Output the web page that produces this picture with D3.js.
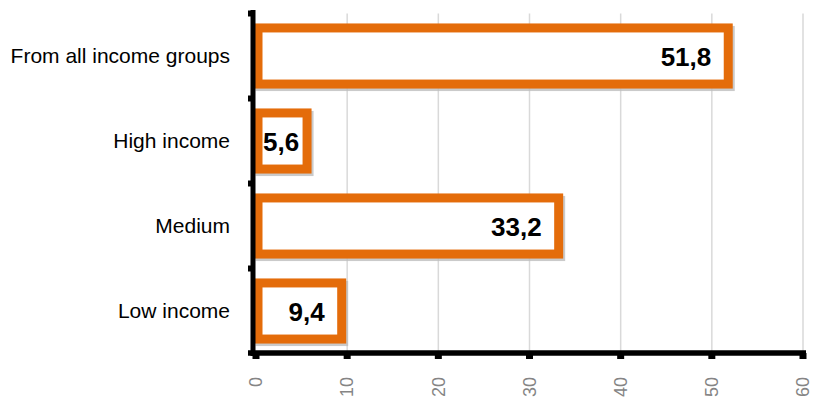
<!DOCTYPE html>
<html><head><meta charset="utf-8">
<script src="https://cdn.jsdelivr.net/npm/d3@7"></script>
<style>body{margin:0;background:#fff}svg{display:block}</style>
</head><body>
<svg id="c" width="815" height="405"></svg>
<script>
const categories = ["From all income groups","High income","Medium","Low income"];
const values = [51.8, 5.6, 33.2, 9.4];
const valueLabels = ["51,8","5,6","33,2","9,4"];
const xTicks = [0,10,20,30,40,50,60];

const svg = d3.select("#c");
const x = d3.scaleLinear().domain([0,60]).range([256,803]);
const y = d3.scaleBand().domain(categories).range([13.5,353.5]).paddingInner(0.34).paddingOuter(0.17);
const band = d3.scaleBand().domain(categories).range([13.5,353.5]);
const orange = "#E46C0A";

// gridlines
svg.append("g").selectAll("line").data(xTicks.slice(1)).join("line")
  .attr("x1",d=>x(d)).attr("x2",d=>x(d)).attr("y1",13.5).attr("y2",353)
  .attr("stroke","#d9d9d9").attr("stroke-width",1.5);

// shadows
svg.append("g").selectAll("rect").data(values).join("rect")
  .attr("x",x(0)+4).attr("y",(d,i)=>y(categories[i])+2.5)
  .attr("width",d=>x(d)-x(0)-2).attr("height",y.bandwidth())
  .attr("fill","none").attr("stroke","#bdbdbd").attr("stroke-width",9).attr("opacity",0.8);

// bars
svg.append("g").selectAll("rect").data(values).join("rect")
  .attr("x",x(0)+2).attr("y",(d,i)=>y(categories[i]))
  .attr("width",d=>x(d)-x(0)-2).attr("height",y.bandwidth())
  .attr("fill","#fff").attr("stroke",orange).attr("stroke-width",9);

// value labels
const vl = svg.append("g").selectAll("text").data(values).join("text")
  .attr("y",(d,i)=>band(categories[i])+band.bandwidth()/2+10)
  .attr("text-anchor","end")
  .attr("font-family","Liberation Sans, Arial, sans-serif")
  .attr("font-weight","bold").attr("font-size",26).attr("fill","#000")
  .text((d,i)=>valueLabels[i]);
vl.each(function(d){
  const w = this.getComputedTextLength();
  d3.select(this).attr("x", Math.max(x(d)-17, x(0)+7+w));
});

// category labels
svg.append("g").selectAll("text").data(categories).join("text")
  .attr("x",230).attr("y",d=>band(d)+band.bandwidth()/2).attr("dy","0.35em")
  .attr("text-anchor","end")
  .attr("font-family","Liberation Sans, Arial, sans-serif")
  .attr("font-size",21).attr("fill","#000").text(d=>d);

// y axis
svg.append("line").attr("x1",253).attr("x2",253).attr("y1",10).attr("y2",356)
  .attr("stroke","#000").attr("stroke-width",5);
svg.append("g").selectAll("line").data([0,1,2,3]).join("line")
  .attr("x1",248).attr("x2",253)
  .attr("y1",i=>band(categories[i])).attr("y2",i=>band(categories[i]))
  .attr("stroke","#000").attr("stroke-width",6);

// x axis
svg.append("line").attr("x1",248).attr("x2",806).attr("y1",353).attr("y2",353)
  .attr("stroke","#000").attr("stroke-width",5.5);
svg.append("g").selectAll("line").data(xTicks).join("line")
  .attr("x1",d=>x(d)).attr("x2",d=>x(d)).attr("y1",353).attr("y2",359)
  .attr("stroke","#000").attr("stroke-width",7);
svg.append("g").selectAll("text").data(xTicks).join("text")
  .attr("transform",d=>`translate(${x(d)},377) rotate(-90)`)
  .attr("dy","0.35em").attr("text-anchor","end")
  .attr("font-family","Liberation Sans, Arial, sans-serif")
  .attr("font-size",18).attr("fill","#858585").text(d=>d);
</script>
</body></html>
